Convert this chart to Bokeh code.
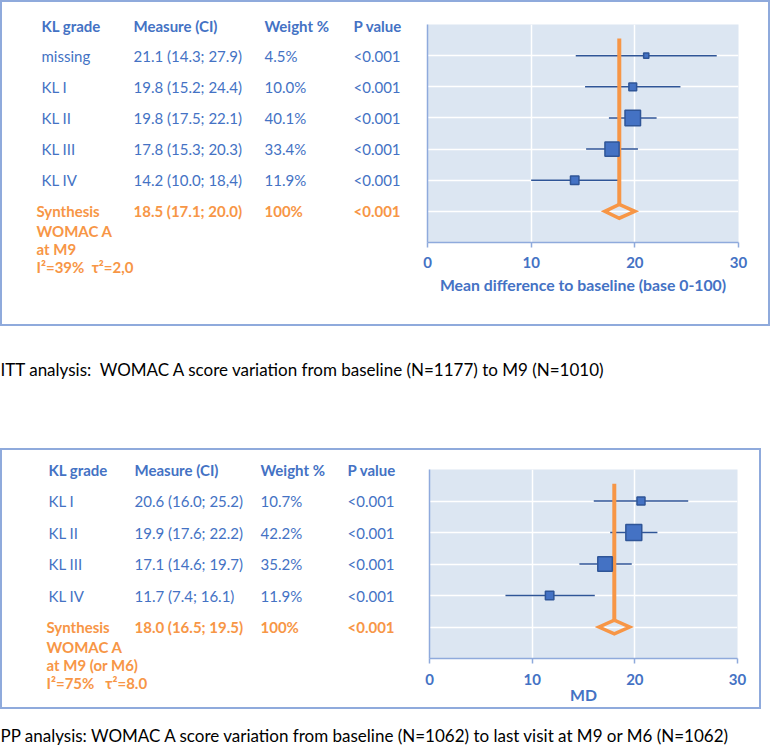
import numpy as np
from bokeh.plotting import figure
from bokeh.models import Range1d, FixedTicker
from bokeh.layouts import column, row
from bokeh.core.properties import value
from bokeh.embed import file_html
from bokeh.resources import INLINE

# ---------------- data ----------------
headers = ["KL grade", "Measure (CI)", "Weight %", "P value"]
x_ticks = [0, 10, 20, 30]

# ITT analysis (top)
itt_grades = ["missing", "KL I", "KL II", "KL III", "KL IV"]
itt_md = [21.1, 19.8, 19.8, 17.8, 14.2]
itt_lo = [14.3, 15.2, 17.5, 15.3, 10.0]
itt_hi = [27.9, 24.4, 22.1, 20.3, 18.4]
itt_weight = [4.5, 10.0, 40.1, 33.4, 11.9]
itt_ci_text = ["21.1 (14.3; 27.9)", "19.8 (15.2; 24.4)", "19.8 (17.5; 22.1)",
               "17.8 (15.3; 20.3)", "14.2 (10.0; 18,4)"]
itt_weight_text = ["4.5%", "10.0%", "40.1%", "33.4%", "11.9%"]
itt_p_text = ["<0.001", "<0.001", "<0.001", "<0.001", "<0.001"]
itt_syn = [18.5, 17.1, 20.0]
itt_syn_text = ["18.5 (17.1; 20.0)", "100%", "<0.001"]
itt_syn_lines = ["Synthesis", "WOMAC A", "at M9", "I\u00b2=39%\u00a0\u00a0\u03c4\u00b2=2,0"]
itt_xlabel = "Mean difference to baseline (base 0-100)"
itt_caption = "ITT analysis:\u00a0\u00a0WOMAC A score variation from baseline (N=1177) to M9 (N=1010)"

# PP analysis (bottom)
pp_grades = ["KL I", "KL II", "KL III", "KL IV"]
pp_md = [20.6, 19.9, 17.1, 11.7]
pp_lo = [16.0, 17.6, 14.6, 7.4]
pp_hi = [25.2, 22.2, 19.7, 16.1]
pp_weight = [10.7, 42.2, 35.2, 11.9]
pp_ci_text = ["20.6 (16.0; 25.2)", "19.9 (17.6; 22.2)", "17.1 (14.6; 19.7)", "11.7 (7.4; 16.1)"]
pp_weight_text = ["10.7%", "42.2%", "35.2%", "11.9%"]
pp_p_text = ["<0.001", "<0.001", "<0.001", "<0.001"]
pp_syn = [18.0, 16.5, 19.5]
pp_syn_text = ["18.0 (16.5; 19.5)", "100%", "<0.001"]
pp_syn_lines = ["Synthesis", "WOMAC A", "at M9 (or M6)", "I\u00b2=75%\u00a0\u00a0\u00a0\u03c4\u00b2=8.0"]
pp_xlabel = "MD"
pp_caption = "PP analysis: WOMAC A score variation from baseline (N=1062) to last visit at M9 or M6 (N=1062)"

# ---------------- styles ----------------
FONT = "Lato"
BLUE_TXT = "#4472C4"
ORANGE = "#F79646"
BG = "#DCE6F2"
BAR = "#2F5597"
SQ = "#4472C4"
AXIS = "#8FAADC"
BORDER = "#8FAADC"
TXT_SIZE = "15px"


def table_fig(w, h, off_x, off_y, cols, syn_x, header_y, frame_top, frame_h, n,
              grades, ci, wt, pv, syn_text, syn_lines):
    slots = n + 2
    pitch = frame_h / slots
    p = figure(width=w, height=h, x_range=Range1d(off_x, off_x + w),
               y_range=Range1d(off_y + h, off_y),
               x_axis_type=None, y_axis_type=None, output_backend="svg",
               toolbar_location=None, min_border=0, title=None, frame_align=False,
               outline_line_color=None, background_fill_color="white",
               border_fill_color="white")
    common = dict(text_font=value(FONT), text_font_size=value(TXT_SIZE),
                  text_baseline="middle", text_align="left")
    p.text(x=cols, y=[header_y] * 4, text=headers, text_color=BLUE_TXT,
           text_font_style="bold", **common)
    ys = [frame_top + (i + 1) * pitch for i in range(n)]
    for cx, col in zip(cols, [grades, ci, wt, pv]):
        p.text(x=[cx] * n, y=ys, text=col, text_color=BLUE_TXT, **common)
    ysyn = frame_top + (n + 1) * pitch
    p.text(x=cols[1:], y=[ysyn] * 3, text=syn_text, text_color=ORANGE,
           text_font_style="bold", **common)
    line_ys = [ysyn] + [ysyn + 20 + 18 * k for k in range(len(syn_lines) - 1)]
    p.text(x=[syn_x] * len(syn_lines), y=line_ys, text=syn_lines, text_color=ORANGE,
           text_font_style="bold", **common)
    return p


def forest_fig(w, h, mb_left, frame_w, mb_top, frame_h, md, lo, hi, wt, syn, xlabel,
               label_standoff, title_standoff):
    n = len(md)
    slots = n + 2
    p = figure(width=w, height=h, x_range=Range1d(x_ticks[0], x_ticks[-1]),
               y_range=Range1d(slots, 0), output_backend="svg", toolbar_location=None,
               min_border_left=mb_left, min_border_right=w - mb_left - frame_w,
               min_border_top=mb_top, min_border_bottom=h - mb_top - frame_h, title=None,
               frame_align=False, background_fill_color=BG, border_fill_color="white",
               outline_line_color=None)
    p.xaxis.ticker = FixedTicker(ticks=x_ticks)
    p.xaxis.axis_line_color = AXIS
    p.xaxis.axis_line_width = 1.5
    p.xaxis.major_tick_line_color = AXIS
    p.xaxis.major_tick_line_width = 1.5
    p.xaxis.major_tick_out = 5
    p.xaxis.major_tick_in = 0
    p.xaxis.minor_tick_line_color = None
    p.xaxis.major_label_text_font = FONT
    p.xaxis.major_label_text_font_size = "15px"
    p.xaxis.major_label_text_font_style = "bold"
    p.xaxis.major_label_text_color = BLUE_TXT
    p.xaxis.major_label_standoff = label_standoff
    p.xaxis.axis_label = xlabel
    p.xaxis.axis_label_text_font = FONT
    p.xaxis.axis_label_text_font_size = "15.8px"
    p.xaxis.axis_label_text_font_style = "bold"
    p.xaxis.axis_label_text_color = BLUE_TXT
    p.xaxis.axis_label_standoff = title_standoff

    p.yaxis.ticker = FixedTicker(ticks=[])
    p.yaxis.axis_line_color = AXIS
    p.yaxis.axis_line_width = 1.5
    p.yaxis.major_tick_line_color = None
    p.yaxis.minor_tick_line_color = None
    p.yaxis.major_tick_out = 0
    p.yaxis.major_label_standoff = 0
    p.yaxis.major_label_text_font_size = "0px"

    p.xgrid.ticker = FixedTicker(ticks=x_ticks)
    p.ygrid.ticker = FixedTicker(ticks=list(range(1, n + 2)))
    p.grid.grid_line_color = "white"
    p.grid.grid_line_width = 1.5

    rows = list(range(1, n + 1))
    p.segment(x0=lo, y0=rows, x1=hi, y1=rows, line_color=BAR, line_width=1.5)
    est, slo, shi = syn
    r = n + 1
    p.segment(x0=[est], y0=[0.45], x1=[est], y1=[r - 0.22], line_color=ORANGE, line_width=4)
    p.patch(x=[slo, est, shi, est], y=[r, r - 0.22, r, r + 0.22], fill_color=None,
            line_color=ORANGE, line_width=3.5, line_join="miter")
    sizes = list(np.sqrt(np.array(wt)) * 2.45)
    p.scatter(x=md, y=rows, marker="square", size=sizes, fill_color=SQ,
              line_color=BAR, line_width=1.5)
    return p


def panel(box_w, box_h, b, cols, syn_x, header_y, fl, fw, ft, fh,
          grades, ci, wt_text, pv, syn_text, syn_lines, md, lo, hi, wt, syn, xlabel,
          ls, ts):
    cw, ch = box_w - 2 * b, box_h - 2 * b
    tw = fl - b - 6
    fwid = cw - tw
    t = table_fig(tw, ch, b, b, cols, syn_x, header_y, ft, fh, len(md),
                  grades, ci, wt_text, pv, syn_text, syn_lines)
    f = forest_fig(fwid, ch, 6, fw, ft - b, fh, md, lo, hi, wt, syn, xlabel, ls, ts)
    return column(row(t, f), styles={"border": f"{b}px solid {BORDER}"})


def caption_fig(w, h, y, text, size):
    p = figure(width=w, height=h, x_range=Range1d(0, w), y_range=Range1d(h, 0),
               x_axis_type=None, y_axis_type=None, output_backend="svg",
               toolbar_location=None, min_border=0, title=None, frame_align=False,
               outline_line_color=None, border_fill_color="white",
               background_fill_color="white")
    p.text(x=[0], y=[y], text=[text], text_font=value(FONT),
           text_font_size=value(size), text_color="#000000",
           text_baseline="middle", text_align="left")
    return p


p1 = panel(770, 326, 2, [41, 133, 264, 353], 36, 25, 427, 311, 24, 218,
           itt_grades, itt_ci_text, itt_weight_text, itt_p_text, itt_syn_text, itt_syn_lines,
           itt_md, itt_lo, itt_hi, itt_weight, itt_syn, itt_xlabel, 9, 4)
cap1 = caption_fig(770, 122, 43, itt_caption, "17px")
p2 = panel(761, 261, 2, [48, 134, 260, 347], 46, 21, 429, 308, 21, 189,
           pp_grades, pp_ci_text, pp_weight_text, pp_p_text, pp_syn_text, pp_syn_lines,
           pp_md, pp_lo, pp_hi, pp_weight, pp_syn, pp_xlabel, 10, -3)
cap2 = caption_fig(770, 36, 26, pp_caption, "17px")

layout = column(p1, cap1, p2, cap2)

open("out.html", "w").write(file_html(layout, INLINE))
